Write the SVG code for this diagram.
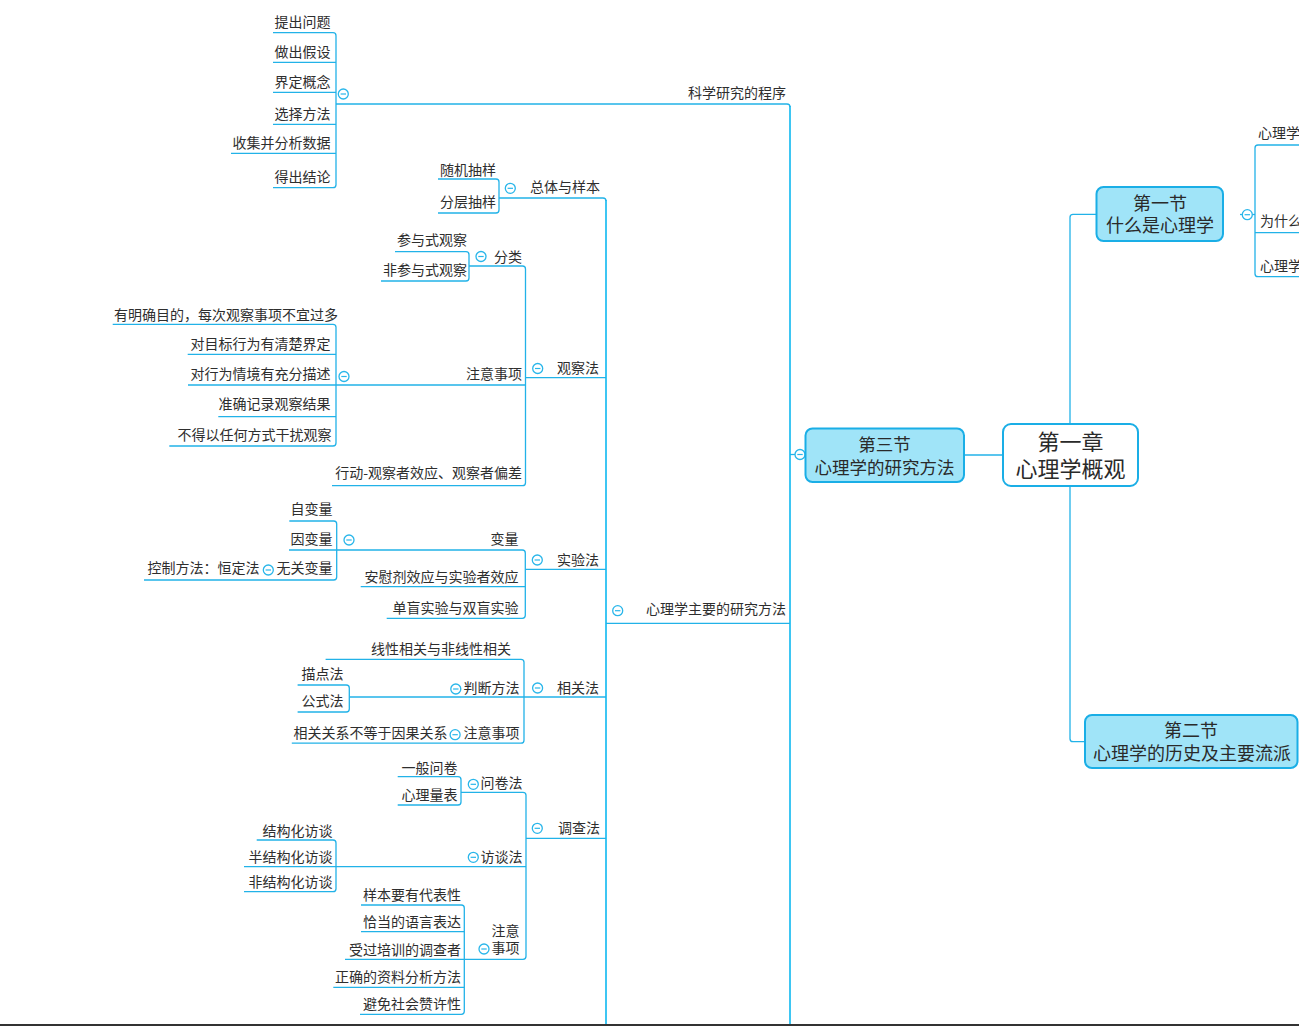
<svg xmlns="http://www.w3.org/2000/svg" xmlns:xlink="http://www.w3.org/1999/xlink" width="1299" height="1027" viewBox="0 0 1299 1027">
<style>
.t{font-family:"Noto Sans CJK SC","Noto Sans CJK JP",sans-serif;font-size:14px;fill:#2e2e2e}
.e{text-anchor:end}
.m{text-anchor:middle}
.nt{font-family:"Noto Sans CJK SC","Noto Sans CJK JP",sans-serif;fill:#2a2a2a;text-anchor:middle}
.ln{fill:none;stroke:#22B2E8;stroke-width:1.3}
.tr{fill:none;stroke:#3EC6F3;stroke-width:2}
.sec{fill:#A0E4F8;stroke:#1AAEE6;stroke-width:2}
.root{fill:#ffffff;stroke:#1AAEE6;stroke-width:2}
.cb circle{fill:#fff;stroke:#29B6EA;stroke-width:1.3}
.cb path{stroke:#29B6EA;stroke-width:1.2}
</style>
<defs>
<g id="col" class="cb"><circle r="5"/><path d="M-2.7,0H2.7"/></g>
</defs>
<rect width="1299" height="1027" fill="#ffffff"/>
<g id="connectors">
<path class="tr" d="M790,106V1024"/>
<path class="tr" d="M606,200V1024"/>
<path class="ln" d="M336,104H787Q790,104 790,107"/>
<path class="ln" d="M499,198H603Q606,198 606,201"/>
<path class="ln" d="M606,623.3H790"/>
<path class="ln" d="M273,32.7H333Q336,32.7 336,35.7V184.7Q336,187.7 333,187.7H273"/>
<path class="ln" d="M273,62.3H336M273,92.3H336M273,124.3H336M231,153.3H336"/>
<path class="ln" d="M438,179H496Q499,179 499,182V210Q499,213 496,213H438"/>
<path class="ln" d="M395,251.7H466Q469,251.7 469,254.7V278Q469,281 466,281H381"/>
<path class="ln" d="M469,266H522.5Q525.5,266 525.5,269V482.7Q525.5,485.7 522.5,485.7H332"/>
<path class="ln" d="M188,385H525.5M525.5,377.7H606"/>
<path class="ln" d="M112.7,324.3H333Q336,324.3 336,327.3V443Q336,446 333,446H169.3"/>
<path class="ln" d="M187.7,354.3H336M218.3,416.7H336"/>
<path class="ln" d="M289,550H522.3Q525.3,550 525.3,553V615.3Q525.3,618.3 522.3,618.3H386.7"/>
<path class="ln" d="M360.7,586.7H525.3M525.3,569.3H606"/>
<path class="ln" d="M289.3,521H333.7Q336.7,521 336.7,524V577Q336.7,580 333.7,580H144"/>
<path class="ln" d="M325.6,659.3H521Q524,659.3 524,662.3V740.2Q524,743.2 521,743.2H291.8"/>
<path class="ln" d="M349.3,697H606"/>
<path class="ln" d="M297.6,685H346.3Q349.3,685 349.3,688V709Q349.3,712 346.3,712H297.6"/>
<path class="ln" d="M461,792.3H523Q526,792.3 526,795.3V956.3Q526,959.3 523,959.3H345"/>
<path class="ln" d="M244,866.7H526M526,838.3H606"/>
<path class="ln" d="M397.7,776.7H458Q461,776.7 461,779.7V802Q461,805 458,805H397.7"/>
<path class="ln" d="M256.7,840H333Q336,840 336,843V888.7Q336,891.7 333,891.7H244"/>
<path class="ln" d="M361,905H461.3Q464.3,905 464.3,908V1011.3Q464.3,1014.3 461.3,1014.3H360"/>
<path class="ln" d="M361,931.7H464.3M333.3,987.3H464.3"/>
<path class="ln" d="M790,454.5H805"/>
<path class="ln" d="M964,455H1003"/>
<path class="ln" d="M1096,214.3H1073Q1070,214.3 1070,217.3V424"/>
<path class="ln" d="M1070,486V738.7Q1070,741.7 1073,741.7H1085"/>
<path class="ln" d="M1240,214.5H1255"/>
<path class="ln" d="M1299,145H1258Q1255,145 1255,148V273.7Q1255,276.7 1258,276.7H1299"/>
<path class="ln" d="M1255,232.7H1299"/>
<use xlink:href="#col" x="343.3" y="94"/>
<use xlink:href="#col" x="510.3" y="188.3"/>
<use xlink:href="#col" x="481" y="256.5"/>
<use xlink:href="#col" x="537.7" y="368.5"/>
<use xlink:href="#col" x="344" y="376.5"/>
<use xlink:href="#col" x="537.3" y="560"/>
<use xlink:href="#col" x="349" y="540"/>
<use xlink:href="#col" x="268.3" y="570"/>
<use xlink:href="#col" x="617.7" y="610.7"/>
<use xlink:href="#col" x="537.6" y="688"/>
<use xlink:href="#col" x="455.8" y="689"/>
<use xlink:href="#col" x="455.1" y="734.7"/>
<use xlink:href="#col" x="537.3" y="828.3"/>
<use xlink:href="#col" x="473.3" y="784.3"/>
<use xlink:href="#col" x="473.3" y="857.3"/>
<use xlink:href="#col" x="484" y="949"/>
<use xlink:href="#col" x="800" y="454.5"/>
<use xlink:href="#col" x="1247.3" y="214.7"/>
</g>
<line x1="0" y1="1025" x2="1299" y2="1025" stroke="#333333" stroke-width="2"/>

<g id="node-root"><rect class="root" x="1003" y="424" width="135" height="62" rx="8"/>
<text class="nt" x="1070.5" y="450" font-size="22">第一章</text>
<text class="nt" x="1070.5" y="476.5" font-size="22">心理学概观</text></g>
<g id="node-sec1"><rect class="sec" x="1096.5" y="187" width="126.5" height="54" rx="7"/>
<text class="nt" x="1160" y="210" font-size="18">第一节</text>
<text class="nt" x="1160" y="232" font-size="18">什么是心理学</text></g>
<g id="node-sec2"><rect class="sec" x="1085" y="715" width="212.5" height="53" rx="7"/>
<text class="nt" x="1191" y="737" font-size="18">第二节</text>
<text class="nt" x="1192" y="759.5" font-size="18">心理学的历史及主要流派</text></g>
<g id="node-sec3"><rect class="sec" x="805.5" y="428.5" width="158.5" height="53.5" rx="7"/>
<text class="nt" x="884.5" y="450.5" font-size="17.5">第三节</text>
<text class="nt" x="884.5" y="473.5" font-size="17.5">心理学的研究方法</text></g>

<g id="labels" transform="translate(0,-1.5)">
<g id="node-s1a"><text class="t" x="1258" y="139.5">心理学</text></g>
<g id="node-s1b"><text class="t" x="1260" y="227">为什么</text></g>
<g id="node-s1c"><text class="t" x="1260" y="272.5">心理学</text></g>

<g id="node-kxyj"><text class="t e" x="786" y="99.5">科学研究的程序</text></g>
<g id="node-k1"><text class="t e" x="330.5" y="28.5">提出问题</text></g>
<g id="node-k2"><text class="t e" x="330.5" y="58">做出假设</text></g>
<g id="node-k3"><text class="t e" x="330.5" y="88">界定概念</text></g>
<g id="node-k4"><text class="t e" x="330.5" y="120">选择方法</text></g>
<g id="node-k5"><text class="t e" x="330.5" y="149">收集并分析数据</text></g>
<g id="node-k6"><text class="t e" x="330.5" y="183.5">得出结论</text></g>

<g id="node-main"><text class="t e" x="786" y="615.5">心理学主要的研究方法</text></g>
<g id="node-ztyb"><text class="t" x="530" y="193">总体与样本</text></g>
<g id="node-sjcy"><text class="t e" x="496" y="176">随机抽样</text></g>
<g id="node-fccy"><text class="t e" x="496" y="208">分层抽样</text></g>

<g id="node-gcf"><text class="t" x="557" y="374.5">观察法</text></g>
<g id="node-fl"><text class="t" x="494" y="263">分类</text></g>
<g id="node-cys"><text class="t e" x="467" y="246">参与式观察</text></g>
<g id="node-fcys"><text class="t e" x="467" y="276">非参与式观察</text></g>
<g id="node-zysx1"><text class="t e" x="522" y="380.5">注意事项</text></g>
<g id="node-z1"><text class="t e" x="338" y="321">有明确目的，每次观察事项不宜过多</text></g>
<g id="node-z2"><text class="t e" x="330.5" y="350.5">对目标行为有清楚界定</text></g>
<g id="node-z3"><text class="t e" x="330.5" y="380.5">对行为情境有充分描述</text></g>
<g id="node-z4"><text class="t e" x="330.5" y="410.5">准确记录观察结果</text></g>
<g id="node-z5"><text class="t e" x="331.5" y="441.5">不得以任何方式干扰观察</text></g>
<g id="node-xd"><text class="t e" x="522" y="479.5">行动-观察者效应、观察者偏差</text></g>

<g id="node-syf"><text class="t" x="557" y="566.5">实验法</text></g>
<g id="node-bl"><text class="t e" x="518.5" y="545.5">变量</text></g>
<g id="node-zbl"><text class="t e" x="332.5" y="515.5">自变量</text></g>
<g id="node-ybl"><text class="t e" x="332.5" y="545.5">因变量</text></g>
<g id="node-wgbl"><text class="t e" x="332.5" y="574.5">无关变量</text></g>
<g id="node-kzff"><text class="t e" x="259.5" y="574.5">控制方法：恒定法</text></g>
<g id="node-awj"><text class="t e" x="518.5" y="583">安慰剂效应与实验者效应</text></g>
<g id="node-dm"><text class="t e" x="518.5" y="614.5">单盲实验与双盲实验</text></g>

<g id="node-xgf"><text class="t" x="557" y="694">相关法</text></g>
<g id="node-xx"><text class="t e" x="511" y="655.5">线性相关与非线性相关</text></g>
<g id="node-pdff"><text class="t e" x="519.5" y="694">判断方法</text></g>
<g id="node-mdf"><text class="t e" x="343.5" y="680">描点法</text></g>
<g id="node-gsf"><text class="t e" x="343.5" y="707">公式法</text></g>
<g id="node-zysx2"><text class="t e" x="519.5" y="739">注意事项</text></g>
<g id="node-xggx"><text class="t e" x="447.5" y="739">相关关系不等于因果关系</text></g>

<g id="node-dcf"><text class="t" x="558" y="834.5">调查法</text></g>
<g id="node-wjf"><text class="t e" x="522.5" y="789.5">问卷法</text></g>
<g id="node-ybwj"><text class="t e" x="457.5" y="774">一般问卷</text></g>
<g id="node-xllb"><text class="t e" x="457.5" y="801">心理量表</text></g>
<g id="node-ftf"><text class="t e" x="522.5" y="863">访谈法</text></g>
<g id="node-jg"><text class="t e" x="332.5" y="837">结构化访谈</text></g>
<g id="node-bjg"><text class="t e" x="332.5" y="863">半结构化访谈</text></g>
<g id="node-fjg"><text class="t e" x="332.5" y="888">非结构化访谈</text></g>
<g id="node-zysx3"><text class="t e" x="519.5" y="937">注意</text><text class="t e" x="519.5" y="954">事项</text></g>
<g id="node-d1"><text class="t e" x="461" y="901">样本要有代表性</text></g>
<g id="node-d2"><text class="t e" x="461" y="928">恰当的语言表达</text></g>
<g id="node-d3"><text class="t e" x="461" y="956">受过培训的调查者</text></g>
<g id="node-d4"><text class="t e" x="461" y="983">正确的资料分析方法</text></g>
<g id="node-d5"><text class="t e" x="461" y="1010.5">避免社会赞许性</text></g>
</g>
</svg>
